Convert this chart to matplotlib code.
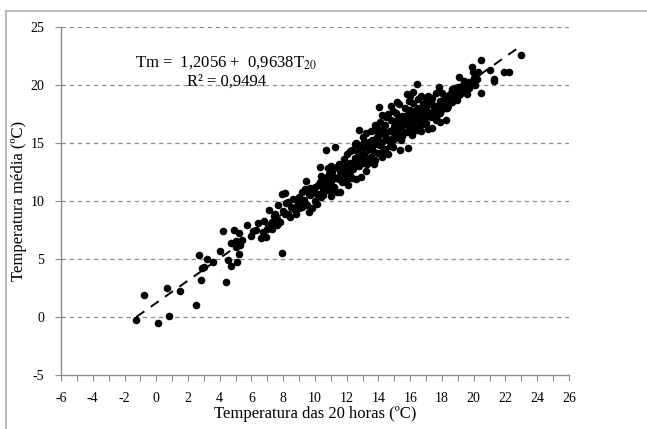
import matplotlib
matplotlib.use("Agg")
import matplotlib.pyplot as plt
import numpy as np
from matplotlib.lines import Line2D

# Temperatura das 20 horas (x) e temperatura média (y)
t20 = [
    -1.3, -0.8, 0.1, 0.7, 0.8, 1.5, 2.5, 2.7, 2.8, 2.9, 3.0, 3.2, 3.6, 4.0, 4.2,
    4.4, 4.5, 4.7, 4.7, 4.9, 5.0, 5.1, 5.2, 5.2, 5.0, 5.4, 5.3, 5.7, 6.0, 6.1,
    6.3, 6.4, 6.6, 6.7, 6.9, 7.0, 6.8, 7.1, 7.2, 7.3, 7.4, 7.5, 7.6, 7.7, 7.9,
    8.1, 7.9, 7.8, 8.0, 8.2, 8.3, 8.4, 8.5, 8.6, 8.8, 8.9, 9.0, 9.1, 9.2, 9.3,
    9.4, 9.45, 9.5, 9.6, 9.7, 9.8, 9.9, 10.0, 10.0, 10.1, 10.2, 10.3, 10.4, 10.5,
    10.6, 10.7, 10.7, 10.8, 10.9, 11.0, 11.0, 11.1, 11.2, 11.25, 11.3, 11.4, 11.5,
    11.6, 11.6, 11.7, 11.8, 11.9, 12.0, 12.0, 12.1, 12.2, 12.3, 12.3, 12.4, 12.5,
    12.6, 12.6, 12.7, 12.8, 12.8, 12.9, 12.9, 13.0, 13.0, 13.1, 13.2, 13.2, 13.3,
    13.4, 13.5, 13.5, 13.6, 13.7, 13.8, 13.8, 13.9, 14.0, 14.0, 14.06, 14.1, 14.2,
    14.2, 14.3, 14.4, 14.5, 14.5, 14.6, 14.7, 14.8, 14.8, 14.9, 15.0, 15.0, 15.1,
    15.15, 15.2, 15.3, 15.36, 15.4, 15.5, 15.5, 15.6, 15.7, 15.8, 15.8, 15.88,
    15.9, 16.0, 16.0, 16.1, 16.2, 16.2, 16.3, 16.4, 16.4, 16.5, 16.5, 16.6, 16.7,
    16.8, 16.8, 16.9, 17.0, 17.0, 17.1, 17.15, 17.2, 17.3, 17.4, 17.5, 17.6, 17.6,
    17.7, 17.8, 17.88, 17.9, 18.0, 18.1, 18.2, 18.27, 18.3, 18.4, 18.5, 18.6,
    18.7, 18.9, 18.92, 19.0, 19.1, 19.2, 19.3, 19.5, 19.6, 19.7, 19.9, 19.96,
    20.0, 20.1, 20.43, 20.43, 21.0, 21.26, 21.3, 21.9, 22.2, 22.95,
    9.2, 9.6, 10.2, 10.5, 10.9, 11.2, 11.7, 12.1, 12.4, 12.7, 13.1, 13.3, 13.6,
    13.9, 14.1, 14.4, 14.6, 14.9, 15.2, 15.4, 15.7, 15.9, 16.1, 16.3, 16.6, 16.9,
    17.2, 17.5, 17.8, 18.1, 18.4, 18.8, 19.4, 19.8, 20.2, 8.7, 8.1, 7.6, 7.3,
    10.7, 11.9, 12.9, 13.4, 14.3, 14.7, 15.1, 15.6, 16.4, 17.4, 18.0, 12.2, 11.4,
    13.7, 14.9, 16.0, 15.3, 14.4, 12.5,
    8.3, 8.9, 9.3, 9.7, 10.1, 10.4, 10.8, 11.1, 11.5, 11.8, 12.2, 12.5, 12.8,
    13.1, 13.4, 13.7, 14.0, 14.3, 14.6, 14.9, 15.2, 15.5, 15.8, 16.1, 16.4, 16.7,
    17.0, 17.3, 17.6, 17.9, 18.2, 18.5, 18.8, 19.1, 19.4, 13.0, 14.2, 15.0, 16.2,
    17.0, 12.0, 11.0, 10.3, 9.0, 14.8, 15.9, 16.7, 18.6, 19.7, 20.3,
]
tmed = [
    -0.3, 1.9, -0.5, 2.5, 0.1, 2.2, 1.0, 5.3, 3.2, 4.2, 4.3, 5.0, 4.7, 5.7, 7.4,
    3.0, 4.9, 4.4, 6.4, 7.5, 6.0, 4.7, 5.4, 7.2, 6.5, 6.6, 6.2, 7.9, 7.0, 7.4,
    7.5, 8.1, 6.8, 7.3, 6.9, 7.6, 8.3, 9.2, 8.0, 7.6, 8.7, 8.9, 8.4, 9.6, 10.6,
    10.7, 5.5, 8.2, 9.1, 9.8, 8.9, 8.6, 9.5, 10.2, 8.9, 9.7, 10.3, 9.9, 10.8, 10.1,
    11.0, 11.7, 9.6, 9.0, 10.5, 9.4, 10.9, 11.2, 10.0, 9.7, 10.6, 11.6, 10.3, 11.0,
    12.0, 14.4, 11.4, 10.9, 12.3, 11.7, 13.0, 12.5, 11.2, 14.6, 12.0, 10.8, 13.2,
    10.75, 12.6, 11.6, 13.6, 12.2, 12.9, 14.0, 11.4, 13.3, 12.0, 14.4, 12.7, 13.7,
    15.0, 11.9, 14.2, 16.1, 13.0, 12.05, 14.8, 13.5, 15.5, 14.0, 12.6, 15.8, 13.2,
    14.5, 16.0, 13.8, 15.2, 14.2, 16.5, 13.5, 14.9, 15.6, 14.1, 18.1, 16.8, 13.8,
    15.1, 16.2, 14.5, 17.2, 15.4, 14.0, 16.0, 15.0, 17.0, 14.6, 16.4, 15.3, 17.6,
    18.5, 15.8, 16.9, 14.35, 16.2, 17.3, 15.6, 16.6, 18.0, 19.2, 15.9, 14.55,
    17.0, 16.5, 17.8, 15.7, 18.4, 16.9, 17.4, 20.1, 16.1, 17.0, 18.8, 16.5, 17.8,
    18.3, 17.1, 16.6, 18.0, 17.3, 19.0, 16.2, 17.6, 18.5, 16.3, 17.9, 19.3, 18.2,
    17.4, 19.8, 16.8, 18.6, 17.9, 18.3, 19.0, 17.0, 18.0, 18.8, 19.2, 18.5,
    19.0, 19.5, 18.65, 19.8, 20.7, 19.3, 20.0, 19.8, 19.2, 20.2, 21.5, 21.1,
    20.6, 20.0, 22.15, 19.3, 21.3, 20.3, 20.5, 21.1, 21.1, 22.6,
    9.5, 10.6, 11.4, 10.5, 11.3, 12.0, 12.3, 12.6, 13.2, 13.6, 13.3, 14.6, 14.6,
    15.5, 14.8, 15.7, 15.2, 16.0, 16.5, 15.2, 16.8, 16.3, 17.2, 16.4, 17.5, 17.6,
    18.3, 17.5, 18.1, 18.8, 18.2, 19.1, 19.5, 20.1, 20.5, 9.3, 8.9, 7.9, 8.2,
    11.8, 13.0, 13.9, 15.1, 15.9, 14.7, 15.6, 17.2, 17.7, 18.9, 19.3, 14.3, 12.9,
    16.1, 17.7, 19.0, 18.3, 16.5, 14.9,
    9.9, 10.0, 9.8, 11.1, 10.6, 12.1, 12.8, 11.0, 11.9, 12.7, 12.2, 13.4, 14.6,
    15.1, 13.6, 13.2, 16.2, 14.3, 17.5, 15.4, 17.1, 16.0, 17.4, 16.2, 18.0, 16.0,
    18.6, 17.2, 17.0, 17.6, 18.0, 18.5, 19.7, 19.1, 20.3, 14.6, 17.4, 16.8, 19.4,
    16.7, 11.9, 10.4, 12.9, 9.4, 18.2, 18.6, 19.0, 19.6, 19.7, 21.1,
]

# Reta de regressão
intercept = 1.2056
slope = 0.9638
x_line = np.array([-1.25, 22.8])

plt.rcParams["font.family"] = ["Liberation Serif", "DejaVu Serif"]
plt.rcParams["mathtext.fontset"] = "stix"
plt.rcParams["axes.unicode_minus"] = False

fig = plt.figure(figsize=(6.47, 4.29), dpi=100)
ax = fig.add_axes([0.0943, 0.1259, 0.7851, 0.8119])

# moldura cinza (só esquerda e topo aparecem)
frame_y = 1 - 11 / 429
frame_x = 6 / 647
fig.lines.append(Line2D([frame_x, frame_x], [0, frame_y], transform=fig.transFigure,
                        color="#b0b0b0", linewidth=1.2))
fig.lines.append(Line2D([frame_x, 1], [frame_y, frame_y], transform=fig.transFigure,
                        color="#b0b0b0", linewidth=1.2))

ax.scatter(t20, tmed, s=30, color="black", zorder=3, linewidths=0)
ax.plot(x_line, intercept + slope * x_line, color="black", linestyle=(0, (5, 4)),
        linewidth=1.4, zorder=4)

ax.set_xlim(-6, 26)
ax.set_ylim(-5, 25)
ax.set_xticks(np.arange(-6, 27, 2))
ax.set_xticks(np.arange(-6, 27, 1), minor=True)
ax.set_yticks(np.arange(-5, 26, 5))

for yv in range(0, 26, 5):
    ax.axhline(yv, color="#8c8c8c", linestyle=(0, (3.5, 3)), linewidth=0.9, zorder=1)

for side in ["top", "right"]:
    ax.spines[side].set_visible(False)
for side in ["left", "bottom"]:
    ax.spines[side].set_color("#8c8c8c")
    ax.spines[side].set_linewidth(1.0)

ax.tick_params(axis="both", which="both", colors="#8c8c8c", labelcolor="black",
               labelsize=10, direction="out", length=4, width=0.8)
ax.tick_params(axis="y", pad=8)
ax.tick_params(axis="x", pad=8)

ax.set_xlabel("Temperatura das 20 horas (ºC)", fontsize=12)
ax.set_ylabel("Temperatura média (ºC)", fontsize=12)
ax.xaxis.set_label_coords(0.5, -0.088)
ax.yaxis.set_label_coords(-0.067, 0.5)

ax.text(4.4, 21.9, "Tm =  1,2056 +  0,9638T$_{20}$", fontsize=12,
        ha="center", va="center")
ax.text(4.4, 20.3, "R² = 0,9494", fontsize=12, ha="center", va="center")

fig.savefig("out.png", dpi=100)
